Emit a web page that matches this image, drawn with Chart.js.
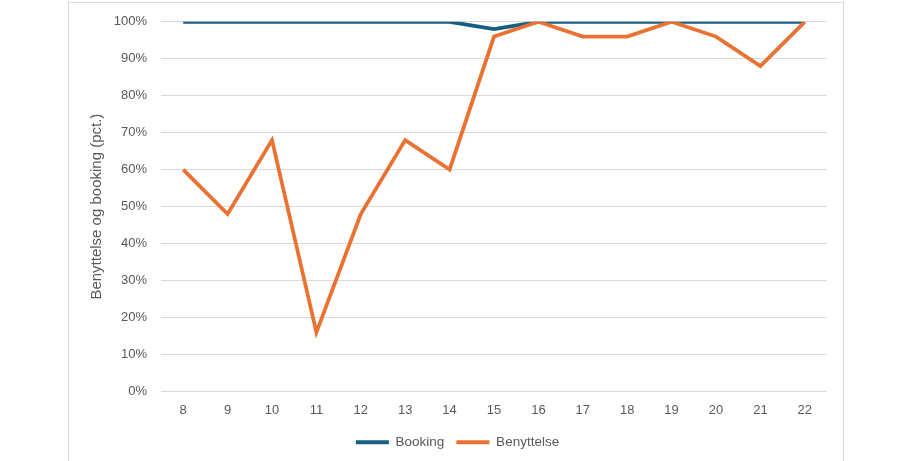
<!DOCTYPE html>
<html>
<head>
<meta charset="utf-8">
<script src="https://cdn.jsdelivr.net/npm/chart.js@4"></script>
<style>
  html, body { margin: 0; padding: 0; background: #fff; }
  .wrap { position: relative; width: 911px; height: 461px; overflow: hidden; }
  .frame { position: absolute; left: 68px; top: 2px; width: 776px; height: 480px; border: 1px solid #d9d9d9; box-sizing: border-box; }
  canvas { position: absolute; left: 0; top: 0; }
</style>
</head>
<body>
<div class="wrap">
  <div class="frame"></div>
  <canvas id="chart" width="911" height="461"></canvas>
</div>
<script>
// Hours of the day
var hours = ['8', '9', '10', '11', '12', '13', '14', '15', '16', '17', '18', '19', '20', '21', '22']

// Percent values
var booking = [100, 100, 100, 100, 100, 100, 100, 98, 100, 100, 100, 100, 100, 100, 100]
var benyttelse = [60, 48, 68, 16, 48, 68, 60, 96, 100, 96, 96, 100, 96, 88, 100]

var yTicks = [0, 10, 20, 30, 40, 50, 60, 70, 80, 90, 100]

var blue = '#156082'
var orange = '#E97132'
var textGrey = '#595959'
var fontFamily = '"Liberation Sans", Arial, sans-serif'

var chart = new Chart(document.getElementById('chart'), {
  type: 'line',
  data: {
    labels: hours,
    datasets: [
      {
        label: 'Booking',
        data: booking,
        borderColor: blue,
        backgroundColor: blue,
        borderWidth: 3.75,
        pointRadius: 0,
        tension: 0,
        order: 2
      },
      {
        label: 'Benyttelse',
        data: benyttelse,
        borderColor: orange,
        backgroundColor: orange,
        borderWidth: 3.75,
        pointRadius: 0,
        tension: 0,
        order: 1
      }
    ]
  },
  options: {
    responsive: false,
    animation: false,
    layout: {
      padding: { left: 88, top: 15.5, right: 84, bottom: 2 }
    },
    plugins: {
      tooltip: { enabled: false },
      legend: {
        position: 'bottom',
        labels: {
          color: textGrey,
          font: { family: fontFamily, size: 13.5 },
          boxWidth: 33,
          boxHeight: 4,
          padding: 12,
          generateLabels: function (c) {
            var items = Chart.defaults.plugins.legend.labels.generateLabels(c)
            items.sort(function (a, b) { return a.datasetIndex - b.datasetIndex })
            items.forEach(function (item) {
              item.fillStyle = item.strokeStyle
              item.lineWidth = 0
            })
            return items
          }
        }
      }
    },
    scales: {
      x: {
        offset: true,
        grid: { display: false },
        border: { display: false },
        ticks: {
          color: textGrey,
          font: { family: fontFamily, size: 13 },
          padding: 3,
          maxRotation: 0
        },
        afterFit: function (scale) { scale.height = 32 }
      },
      y: {
        min: 0,
        max: 100,
        afterBuildTicks: function (scale) {
          scale.ticks = yTicks.map(function (v) { return { value: v } })
        },
        grid: { color: '#d9d9d9', drawTicks: false, lineWidth: 1 },
        border: { display: false },
        ticks: {
          color: textGrey,
          font: { family: fontFamily, size: 13 },
          padding: 14,
          callback: function (v) { return v + '%' }
        },
        title: {
          display: true,
          text: 'Benyttelse og booking (pct.)',
          color: textGrey,
          font: { family: fontFamily, size: 15 },
          padding: 0
        },
        afterFit: function (scale) { scale.width = 73 }
      }
    }
  }
})
</script>
</body>
</html>
